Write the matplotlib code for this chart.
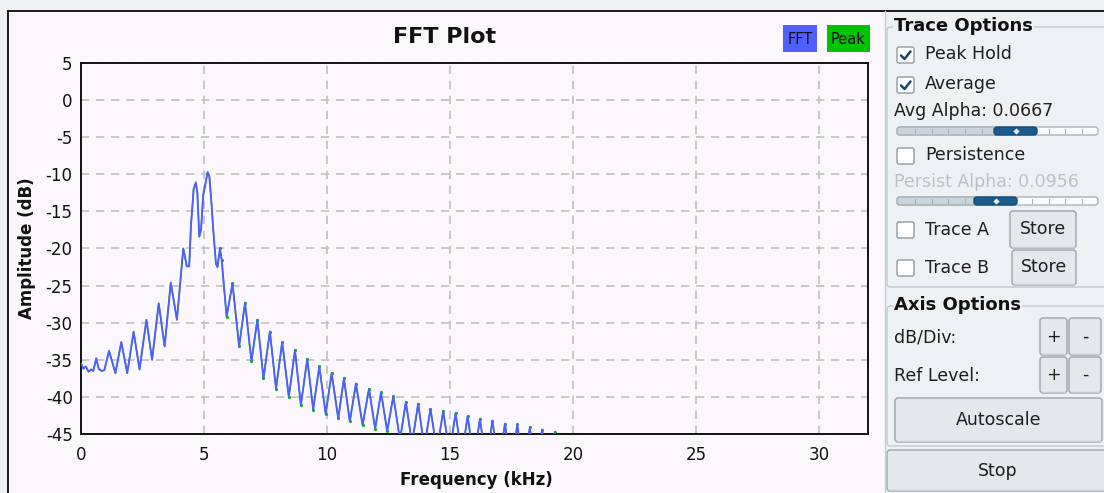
import matplotlib
matplotlib.use('Agg')
import matplotlib.pyplot as plt
from matplotlib.patches import FancyBboxPatch, Rectangle

plt.rcParams['font.family'] = ['DejaVu Sans']
plt.rcParams['axes.unicode_minus'] = False

# ---------------- data ----------------
freq_khz = [0.00, 0.10, 0.20, 0.30, 0.42, 0.50, 0.62, 0.72, 0.83, 0.95,
            1.14, 1.40, 1.64, 1.88, 2.14, 2.38, 2.66, 2.89, 3.16, 3.40,
            3.65, 3.90, 4.16, 4.30, 4.40, 4.47, 4.58, 4.67, 4.73, 4.81,
            4.88, 4.97, 5.15, 5.22, 5.31, 5.38, 5.49, 5.55, 5.65, 5.72,
            5.92, 6.16, 6.43, 6.67, 6.93, 7.17, 7.42, 7.68, 7.93, 8.18,
            8.45, 8.70, 8.94, 9.20, 9.44, 9.69, 9.95, 10.19, 10.46, 10.69,
            10.93, 11.18, 11.45, 11.71, 11.96, 12.20, 12.45, 12.70, 12.97, 13.21,
            13.46, 13.71, 13.96, 14.21, 14.47, 14.73, 14.98, 15.23, 15.48, 15.72,
            15.97, 16.22, 16.48, 16.73, 16.98, 17.24, 17.49, 17.74, 18.00, 18.25,
            18.50, 18.75, 19.00, 19.27, 19.52, 19.77, 20.02]
fft_db = [-35.5, -36.2, -35.9, -36.6, -36.3, -36.5, -34.8, -36.2, -36.5, -36.4,
          -33.8, -36.8, -32.6, -36.8, -31.2, -36.3, -29.6, -35.0, -27.4, -33.2,
          -24.6, -29.6, -20.0, -22.4, -22.4, -17.0, -12.0, -11.1, -12.5, -18.4,
          -17.5, -12.8, -9.7, -10.3, -14.1, -17.6, -22.1, -22.5, -20.0, -21.5,
          -29.2, -24.7, -33.2, -27.3, -35.2, -29.6, -37.5, -31.2, -38.9, -32.6,
          -40.0, -33.7, -41.1, -34.9, -41.7, -35.9, -42.3, -36.8, -42.9, -37.5,
          -43.3, -38.2, -43.8, -38.9, -44.3, -39.4, -44.6, -39.9, -45.8, -40.7,
          -46.3, -40.9, -46.8, -41.6, -47.2, -41.9, -47.6, -42.2, -48.0, -42.6,
          -48.4, -43.0, -48.8, -43.2, -49.2, -43.6, -49.6, -43.7, -50.0, -44.1,
          -50.4, -44.4, -50.8, -44.7, -51.2, -45.2, -51.6]
peak_db = list(fft_db)

x_ticks = [0, 5, 10, 15, 20, 25, 30]
y_ticks = [5, 0, -5, -10, -15, -20, -25, -30, -35, -40, -45]
x_tick_labels = [str(v) for v in x_ticks]
y_tick_labels = [str(v) for v in y_ticks]
legend_labels = ['FFT', 'Peak']

# ---------------- figure ----------------
W, H = 1104, 493
fig = plt.figure(figsize=(W / 100, H / 100), dpi=100)
fig.patch.set_facecolor('#EEF0F3')

ov = fig.add_axes([0, 0, 1, 1], zorder=0)
ov.set_xlim(0, W)
ov.set_ylim(H, 0)
ov.axis('off')

PINK = '#FCF7FC'
PANEL = '#EEF1F4'
ov.add_patch(Rectangle((8, 11), 877, H - 11, fc=PINK, ec='none'))
ov.add_patch(Rectangle((885, 11), W - 885, H - 11, fc=PANEL, ec='none'))
ov.plot([8, W], [11, 11], color='#1a1a1a', lw=1.4)
ov.plot([8, 8], [11, H], color='#1a1a1a', lw=1.4)
ov.plot([884.5, 884.5], [11, H], color='#C8CDD2', lw=1.0)

# ---------------- main plot ----------------
ax = fig.add_axes([81 / W, 1 - 434 / H, (868 - 81) / W, (434 - 63) / H], zorder=1)
ax.set_facecolor(PINK)
ax.set_xlim(0, 32)
ax.set_ylim(-45, 5)
ax.set_xticks(x_ticks)
ax.set_xticklabels(x_tick_labels)
ax.set_yticks(y_ticks)
ax.set_yticklabels(y_tick_labels)
ax.tick_params(axis='both', length=0, labelsize=12, colors='#111111')
ax.tick_params(axis='x', pad=9)
ax.tick_params(axis='y', pad=6)
ax.grid(True, color='#C0C0C0', lw=1.2, ls=(0, (5, 4)))
ax.set_axisbelow(True)
for s in ax.spines.values():
    s.set_color('#111111')
    s.set_linewidth(1.4)

tail_idx = [i for i, f in enumerate(freq_khz) if f >= 5.6]
ax.plot(freq_khz, peak_db, color='#00C000', lw=1.0, marker='o', ms=2.3,
        mec='none', markevery=tail_idx, zorder=2)
ax.plot(freq_khz, fft_db, color='#4F5EFF', lw=1.35, zorder=3)

ov.text(445, 37, 'FFT Plot', ha='center', va='center', fontsize=16,
        fontweight='bold', color='#111111')
ov.text(476, 480, 'Frequency (kHz)', ha='center', va='center', fontsize=12,
        fontweight='bold', color='#111111')
ov.text(27, 248, 'Amplitude (dB)', ha='center', va='center', fontsize=12,
        fontweight='bold', rotation=90, color='#111111')

# legend boxes
ov.add_patch(Rectangle((783, 25), 34, 27, fc='#5060FF', ec='none'))
ov.text(800, 39, legend_labels[0], ha='center', va='center', fontsize=10.5, color='#111111')
ov.add_patch(Rectangle((827, 25), 43, 27, fc='#00C400', ec='none'))
ov.text(848.5, 39, legend_labels[1], ha='center', va='center', fontsize=10.5, color='#111111')

# ---------------- right panel ----------------
TXT = '#1E1E1E'
BORDER = '#C2C8CE'


def rbox(x0, y0, x1, y1, fc, ec, r=3, lw=1.0, z=1):
    ov.add_patch(FancyBboxPatch((x0, y0), x1 - x0, y1 - y0,
                                boxstyle='round,pad=0,rounding_size=%g' % r,
                                fc=fc, ec=ec, lw=lw, zorder=z))


def button(x0, y0, x1, y1, label, fs=12.5):
    rbox(x0, y0, x1, y1, '#E4E7EB', '#9AA3AC', r=3)
    ov.plot([x0 + 2, x1 - 2], [y1 - 1.5, y1 - 1.5], color='#C9CED4', lw=1, zorder=2)
    ov.text((x0 + x1) / 2, (y0 + y1) / 2, label, ha='center', va='center',
            fontsize=fs, color=TXT, zorder=3)


def checkbox(y0, checked):
    rbox(897, y0, 914, y0 + 16, '#FFFFFF', '#8E99A4', r=2)
    if checked:
        ov.plot([901, 904.5, 910.5], [y0 + 8.5, y0 + 12, y0 + 4.5],
                color='#17486F', lw=1.8, solid_capstyle='round', zorder=3)


def slider(y0, h0, h1):
    x0, x1 = 897, 1098
    rbox(x0, y0, x1, y0 + 8, '#FAFBFC', '#A9B3BB', r=3)
    rbox(x0, y0, h0 + 3, y0 + 8, '#C8D3DA', '#A9B3BB', r=3)
    k = 0
    while True:
        tx = 915 + 16.7 * k
        if tx > x1 - 8:
            break
        ov.plot([tx, tx], [y0 + 2, y0 + 6], color='#A9B3BB', lw=0.8, zorder=2)
        k += 1
    rbox(h0, y0, h1, y0 + 8, '#1C5B8E', '#174C77', r=3, z=3)
    ov.plot([(h0 + h1) / 2], [y0 + 4], marker='D', ms=3.2, color='#E6EEF5',
            mec='none', zorder=4)


# Trace Options group
rbox(887, 27, 1110, 287, 'none', BORDER, r=3)
ov.text(894, 26, 'Trace Options', ha='left', va='center', fontsize=13,
        fontweight='bold', color='#111111',
        bbox=dict(fc=PANEL, ec='none', pad=1))

checkbox(47, True)
ov.text(925, 54, 'Peak Hold', ha='left', va='center', fontsize=12.5, color=TXT)
checkbox(77, True)
ov.text(925, 84, 'Average', ha='left', va='center', fontsize=12.5, color=TXT)
ov.text(894, 111, 'Avg Alpha: 0.0667', ha='left', va='center', fontsize=12.5, color=TXT)
slider(127, 994, 1037)
checkbox(148, False)
ov.text(925, 155, 'Persistence', ha='left', va='center', fontsize=12.5, color=TXT)
ov.text(894, 182, 'Persist Alpha: 0.0956', ha='left', va='center', fontsize=12.5,
        color='#B9C1C8')
slider(197, 974, 1017)
checkbox(222, False)
ov.text(925, 230, 'Trace A', ha='left', va='center', fontsize=12.5, color=TXT)
button(1010, 211, 1076, 248, 'Store')
checkbox(260, False)
ov.text(925, 268, 'Trace B', ha='left', va='center', fontsize=12.5, color=TXT)
button(1012, 250, 1076, 285, 'Store')

# Axis Options group
rbox(887, 306, 1110, 446, 'none', BORDER, r=3)
ov.text(894, 305, 'Axis Options', ha='left', va='center', fontsize=13,
        fontweight='bold', color='#111111',
        bbox=dict(fc=PANEL, ec='none', pad=1))
ov.text(894, 338, 'dB/Div:', ha='left', va='center', fontsize=12.5, color=TXT)
button(1040, 318, 1067, 355, '+')
button(1069, 318, 1101, 355, '-')
ov.text(894, 376, 'Ref Level:', ha='left', va='center', fontsize=12.5, color=TXT)
button(1040, 357, 1067, 393, '+')
button(1069, 357, 1101, 393, '-')
button(895, 398, 1102, 442, 'Autoscale')

button(887, 450, 1108, 491, 'Stop')

fig.savefig('out.png', dpi=100, facecolor=fig.get_facecolor())
